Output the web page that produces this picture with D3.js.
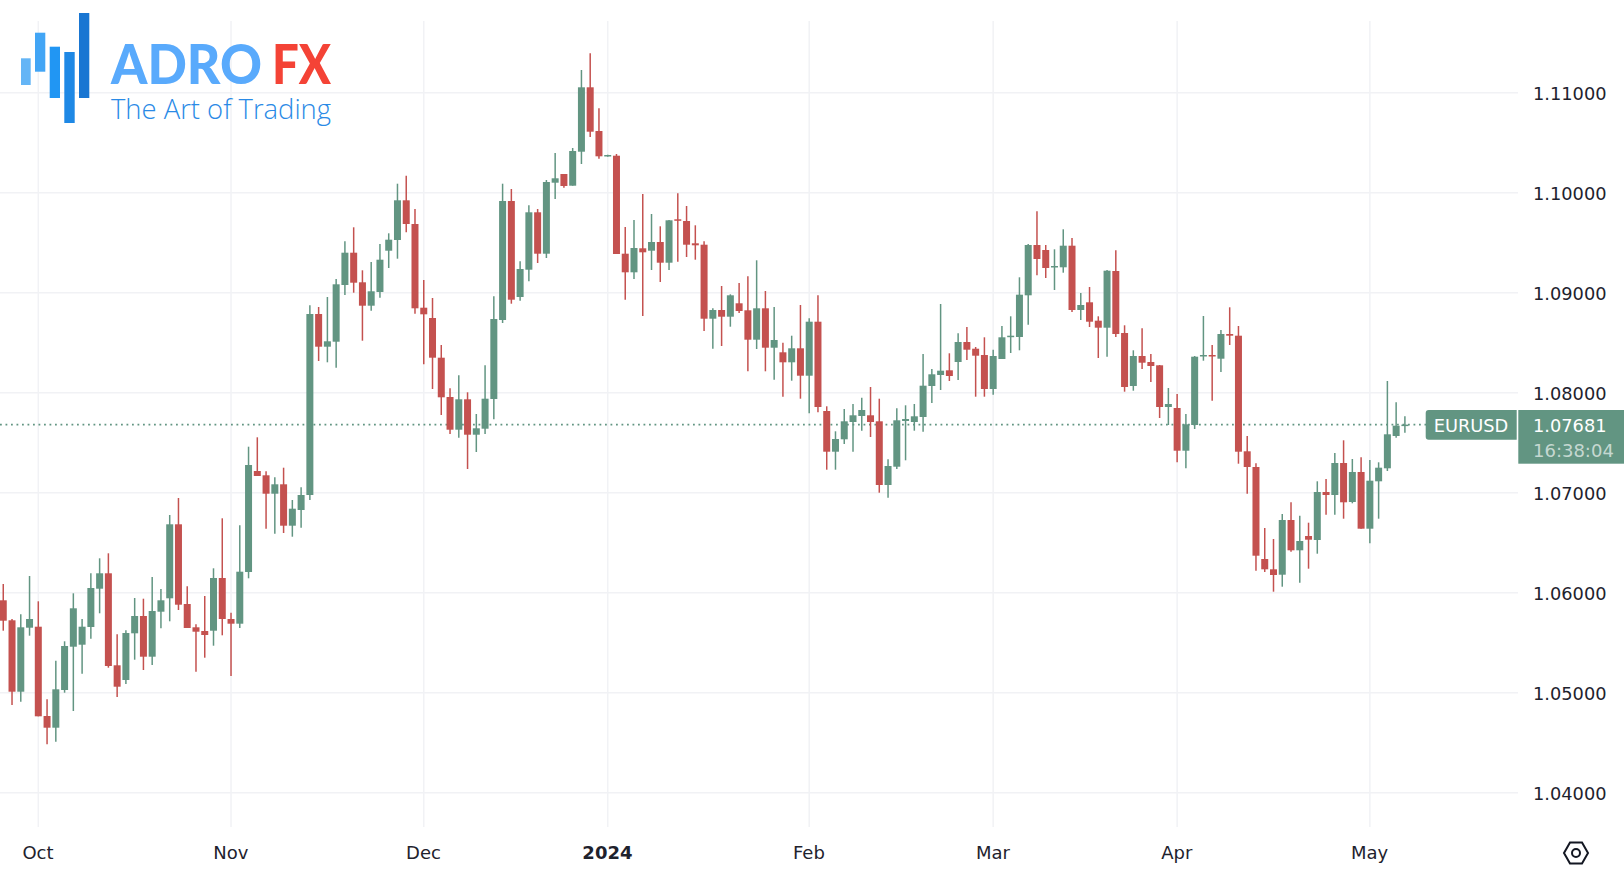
<!DOCTYPE html>
<html>
<head>
<meta charset="utf-8">
<title>EURUSD daily</title>
<script src="https://cdn.jsdelivr.net/npm/d3@7"></script>
<style>
  html, body { margin: 0; padding: 0; background: #fff; overflow: hidden; }
  svg { display: block; }
  text { font-family: "DejaVu Sans", sans-serif; }
</style>
</head>
<body>
<script>
// daily candles
var opens = [
1.05924,1.05724,1.05010,1.05650,1.05660,1.04767,1.04650,1.05027,1.05460,1.05480,
1.05657,1.06040,1.06194,1.05274,1.05127,1.05594,1.05767,1.05360,1.05810,1.05944,
1.06684,1.05887,1.05654,1.05617,1.05620,1.06147,1.05737,1.05690,1.06207,1.07217,
1.07174,1.06990,1.07084,1.06670,1.06827,1.06977,1.08787,1.08460,1.08510,1.09077,
1.09400,1.09104,1.08870,1.09007,1.09420,1.09527,1.09924,1.09687,1.08850,1.08747,
1.08350,1.07957,1.07630,1.07934,1.07580,1.07640,1.07937,1.08727,1.09917,1.08957,
1.09230,1.09804,1.09390,1.10100,1.10187,1.10070,1.10410,1.11054,1.10617,1.10364,
1.10370,1.09390,1.09204,1.09444,1.09420,1.09507,1.09300,1.09734,1.09717,1.09494,
1.09480,1.08740,1.08827,1.08760,1.08894,1.08824,1.08530,1.08844,1.08450,1.08404,
1.08304,1.08444,1.08170,1.08710,1.07817,1.07410,1.07534,1.07707,1.07767,1.07774,
1.07714,1.07077,1.07260,1.07717,1.07707,1.07757,1.08067,1.08177,1.08224,1.08307,
1.08507,1.08440,1.08377,1.08037,1.08337,1.08557,1.08557,1.08974,1.09477,1.09427,
1.09254,1.09254,1.09470,1.08827,1.08904,1.08720,1.08650,1.09217,1.08597,1.08067,
1.08367,1.08307,1.08274,1.07857,1.07847,1.07420,1.07677,1.08364,1.08377,1.08340,
1.08587,1.08570,1.07414,1.07257,1.06337,1.06234,1.06180,1.06727,1.06424,1.06567,
1.06527,1.07007,1.06977,1.07297,1.06907,1.07207,1.06640,1.07114,1.07244,1.07567,
1.07667];
var highs = [
1.06087,1.05737,1.05784,1.06167,1.05914,1.04934,1.05320,1.05514,1.05994,1.05737,
1.06194,1.06344,1.06394,1.05584,1.05624,1.05947,1.05940,1.06157,1.06037,1.06777,
1.06947,1.06064,1.05684,1.05967,1.06244,1.06744,1.05800,1.06674,1.07460,1.07554,
1.07214,1.07154,1.07250,1.06927,1.07054,1.08874,1.08857,1.08957,1.09137,1.09514,
1.09654,1.09224,1.09307,1.09487,1.09594,1.10090,1.10170,1.09837,1.09127,1.08947,
1.08477,1.08044,1.08174,1.08004,1.07787,1.08274,1.08964,1.10090,1.10037,1.09314,
1.09874,1.09837,1.10127,1.10397,1.10187,1.10447,1.11227,1.11394,1.10844,1.10380,
1.10387,1.09657,1.09727,1.09987,1.09787,1.09664,1.09727,1.09994,1.09867,1.09674,
1.09514,1.08844,1.09067,1.08984,1.09097,1.09164,1.09324,1.09017,1.08857,1.08500,
1.08570,1.08877,1.08744,1.08974,1.07864,1.07614,1.07837,1.07887,1.07950,1.08057,
1.07940,1.07334,1.07844,1.07874,1.07887,1.08387,1.08237,1.08887,1.08394,1.08594,
1.08657,1.08457,1.08554,1.08430,1.08667,1.08764,1.09154,1.09487,1.09814,1.09477,
1.09434,1.09634,1.09547,1.08997,1.09057,1.08764,1.09227,1.09424,1.08674,1.08424,
1.08644,1.08387,1.08277,1.08047,1.07987,1.07787,1.08367,1.08767,1.08477,1.08627,
1.08854,1.08667,1.07567,1.07294,1.06647,1.06537,1.06787,1.06904,1.06770,1.06700,
1.07114,1.07137,1.07397,1.07524,1.07337,1.07354,1.07327,1.07304,1.08117,1.07904,
1.07764];
var lows = [
1.05620,1.04877,1.04910,1.05570,1.04764,1.04484,1.04510,1.05000,1.04817,1.05190,
1.05540,1.05794,1.05250,1.04957,1.05087,1.05330,1.05227,1.05277,1.05644,1.05714,
1.05827,1.05647,1.05210,1.05350,1.05470,1.05574,1.05167,1.05647,1.06144,1.07167,
1.06640,1.06590,1.06597,1.06560,1.06650,1.06927,1.08317,1.08304,1.08250,1.08977,
1.09000,1.08520,1.08820,1.08950,1.09247,1.09340,1.09604,1.08790,1.08284,1.08037,
1.07777,1.07587,1.07550,1.07237,1.07407,1.07587,1.07734,1.08697,1.08890,1.08920,
1.09114,1.09297,1.09347,1.09937,1.10050,1.10070,1.10287,1.10557,1.10340,1.10360,
1.09387,1.08930,1.09137,1.08767,1.09227,1.09107,1.09227,1.09310,1.09357,1.09330,
1.08617,1.08440,1.08467,1.08660,1.08797,1.08214,1.08437,1.08214,1.08130,1.07960,
1.08120,1.07940,1.07794,1.07804,1.07230,1.07230,1.07487,1.07410,1.07620,1.07557,
1.07000,1.06950,1.07237,1.07324,1.07620,1.07610,1.07897,1.08027,1.08117,1.08127,
1.08327,1.07960,1.07960,1.07980,1.08337,1.08397,1.08424,1.08680,1.09174,1.09147,
1.09027,1.09200,1.08807,1.08727,1.08657,1.08347,1.08360,1.08557,1.08010,1.08020,
1.08237,1.08107,1.07747,1.07677,1.07304,1.07244,1.07637,1.08320,1.07920,1.08207,
1.08477,1.07290,1.06990,1.06220,1.06207,1.06010,1.06060,1.06410,1.06100,1.06240,
1.06390,1.06780,1.06780,1.06740,1.06894,1.06640,1.06494,1.06740,1.07217,1.07550,
1.07600];
var closes = [
1.05720,1.05010,1.05654,1.05737,1.04764,1.04650,1.05034,1.05467,1.05844,1.05660,
1.06047,1.06194,1.05267,1.05060,1.05597,1.05767,1.05360,1.05817,1.05924,1.06684,
1.05880,1.05647,1.05610,1.05577,1.06147,1.05737,1.05690,1.06210,1.07277,1.07167,
1.06990,1.07084,1.06670,1.06840,1.06977,1.08787,1.08460,1.08514,1.09084,1.09400,
1.09100,1.08870,1.09014,1.09330,1.09530,1.09924,1.09687,1.08844,1.08784,1.08350,
1.07954,1.07630,1.07934,1.07580,1.07644,1.07940,1.08737,1.09917,1.08930,1.09237,
1.09804,1.09390,1.10107,1.10144,1.10067,1.10417,1.11054,1.10610,1.10364,1.10377,
1.09387,1.09204,1.09447,1.09404,1.09507,1.09300,1.09724,1.09720,1.09480,1.09474,
1.08740,1.08827,1.08760,1.08974,1.08817,1.08530,1.08844,1.08450,1.08527,1.08304,
1.08444,1.08170,1.08710,1.07857,1.07410,1.07537,1.07714,1.07774,1.07827,1.07707,
1.07077,1.07267,1.07724,1.07737,1.07764,1.08070,1.08184,1.08220,1.08167,1.08507,
1.08430,1.08370,1.08037,1.08367,1.08554,1.08570,1.08980,1.09477,1.09337,1.09247,
1.09267,1.09470,1.08827,1.08877,1.08710,1.08650,1.09220,1.08587,1.08057,1.08367,
1.08300,1.08267,1.07857,1.07887,1.07420,1.07684,1.08360,1.08377,1.08364,1.08587,
1.08570,1.07410,1.07257,1.06370,1.06234,1.06177,1.06727,1.06424,1.06517,1.06530,
1.07007,1.06977,1.07297,1.06904,1.07207,1.06640,1.07120,1.07250,1.07584,1.07670,
1.07681];

var priceTicks = [1.04, 1.05, 1.06, 1.07, 1.08, 1.09, 1.10, 1.11];
var monthLabels = ["Oct", "Nov", "Dec", "2024", "Feb", "Mar", "Apr", "May"];
var monthBars = [4, 26, 48, 69, 92, 113, 134, 156]; // bar number where each month starts
var lastPrice = 1.07681;
var symbol = "EURUSD";
var countdown = "16:38:04";

var width = 1624, height = 882;
var green = "#629582", red = "#c4514f";
var candles = d3.range(opens.length);

var x = d3.scaleLinear().domain([0, 160]).range([3.26, 1404.9]);
var y = d3.scaleLinear().domain([1.04, 1.11]).range([792.7, 92.7]);

var svg = d3.select("body").append("svg")
    .attr("width", width)
    .attr("height", height);

// grid
svg.append("g").selectAll("line").data(priceTicks).enter().append("line")
    .attr("x1", 0).attr("x2", 1518)
    .attr("y1", function(d) { return y(d); })
    .attr("y2", function(d) { return y(d); })
    .attr("stroke", "#f1f2f5").attr("stroke-width", 1.5);

svg.append("g").selectAll("line").data(monthBars).enter().append("line")
    .attr("y1", 21).attr("y2", 827)
    .attr("x1", function(d) { return x(d); })
    .attr("x2", function(d) { return x(d); })
    .attr("stroke", "#f1f2f5").attr("stroke-width", 1.5);

// last price line
svg.append("line")
    .attr("x1", 0).attr("x2", 1426)
    .attr("y1", y(lastPrice)).attr("y2", y(lastPrice))
    .attr("stroke", green).attr("stroke-width", 1.8)
    .attr("stroke-dasharray", "1.8 3.7");

// candles
function candleColor(i) { return closes[i] >= opens[i] ? green : red; }

svg.append("g").selectAll("line").data(candles).enter().append("line")
    .attr("x1", function(i) { return x(i); })
    .attr("x2", function(i) { return x(i); })
    .attr("y1", function(i) { return y(highs[i]); })
    .attr("y2", function(i) { return y(lows[i]); })
    .attr("stroke", candleColor).attr("stroke-width", 1.5);

svg.append("g").selectAll("rect").data(candles).enter().append("rect")
    .attr("x", function(i) { return x(i) - 3.5; })
    .attr("width", 7)
    .attr("y", function(i) { return y(Math.max(opens[i], closes[i])); })
    .attr("height", function(i) { return Math.max(1.5, Math.abs(y(opens[i]) - y(closes[i]))); })
    .attr("fill", candleColor);

// axes
var yAxis = d3.axisRight(y)
    .tickValues(priceTicks)
    .tickSize(0)
    .tickPadding(0)
    .tickFormat(d3.format(".5f"));
var yAxisG = svg.append("g").attr("transform", "translate(1533,1)").call(yAxis);

var xAxis = d3.axisBottom(x)
    .tickValues(monthBars)
    .tickSize(0)
    .tickPadding(0)
    .tickFormat(function(d, i) { return monthLabels[i]; });
var xAxisG = svg.append("g").attr("transform", "translate(-0.8,846)").call(xAxis);

[yAxisG, xAxisG].forEach(function(g) {
  g.select(".domain").remove();
  g.selectAll("text")
      .attr("fill", "#1e222d")
      .style("font-family", '"DejaVu Sans", sans-serif')
      .style("font-size", "18px");
});
yAxisG.selectAll("text").style("font-size", "17.8px");
xAxisG.selectAll("text")
    .style("font-weight", function(d, i) { return monthLabels[i] == "2024" ? "bold" : "normal"; });

// symbol and price tags
svg.append("path")
    .attr("d", "M1516.7 410H1428.7a3 3 0 0 0 -3 3V436.7a3 3 0 0 0 3 3H1516.7Z")
    .attr("fill", green);
svg.append("text")
    .attr("x", 1471).attr("y", 425.5).attr("dy", "0.36em")
    .attr("text-anchor", "middle").attr("fill", "#fff")
    .style("font-size", "17.8px").text(symbol);

svg.append("rect")
    .attr("x", 1518.3).attr("y", 410)
    .attr("width", 105.7).attr("height", 53.7)
    .attr("fill", green);
svg.append("text")
    .attr("x", 1533).attr("y", 426).attr("dy", "0.36em")
    .attr("fill", "#fff").style("font-size", "17.8px")
    .text(d3.format(".5f")(lastPrice));
svg.append("text")
    .attr("x", 1533).attr("y", 450.5).attr("dy", "0.36em")
    .attr("fill", "#fff").attr("fill-opacity", 0.65).style("font-size", "18px")
    .text(countdown);

// settings icon
var icon = svg.append("g").attr("transform", "translate(1576,853)")
    .attr("fill", "none").attr("stroke", "#131722").attr("stroke-width", 2);
icon.append("path").attr("d", "M-12 0L-6 -10.5H6L12 0L6 10.5H-6Z");
icon.append("circle").attr("r", 4);

// logo
var logoBars = [
  [21, 58.3, 9.7, 26.7, "#64b5f6"],
  [35, 32.7, 10.3, 39, "#42a5f5"],
  [49.7, 46.7, 10.3, 51.3, "#2196f3"],
  [64.3, 52, 10.4, 71, "#1e88e5"],
  [79, 13, 10.3, 85, "#1976d2"]
];
var logo = svg.append("g");
logo.selectAll("rect").data(logoBars).enter().append("rect")
    .attr("x", function(d) { return d[0]; })
    .attr("y", function(d) { return d[1]; })
    .attr("width", function(d) { return d[2]; })
    .attr("height", function(d) { return d[3]; })
    .attr("fill", function(d) { return d[4]; });
logo.append("text")
    .attr("x", 111).attr("y", 84)
    .attr("textLength", 151).attr("lengthAdjust", "spacingAndGlyphs")
    .attr("fill", "#59aafc")
    .style("font-family", "Lato, sans-serif").style("font-weight", 900).style("font-size", "55px")
    .text("ADRO");
logo.append("text")
    .attr("x", 272).attr("y", 84)
    .attr("textLength", 59).attr("lengthAdjust", "spacingAndGlyphs")
    .attr("fill", "#f44336")
    .style("font-family", "Lato, sans-serif").style("font-weight", 900).style("font-size", "55px")
    .text("FX");
logo.append("text")
    .attr("x", 111).attr("y", 119)
    .attr("textLength", 220).attr("lengthAdjust", "spacingAndGlyphs")
    .attr("fill", "#2a8ae6")
    .style("font-family", '"Open Sans", sans-serif').style("font-weight", 300).style("font-size", "27px")
    .text("The Art of Trading");
</script>
</body>
</html>
